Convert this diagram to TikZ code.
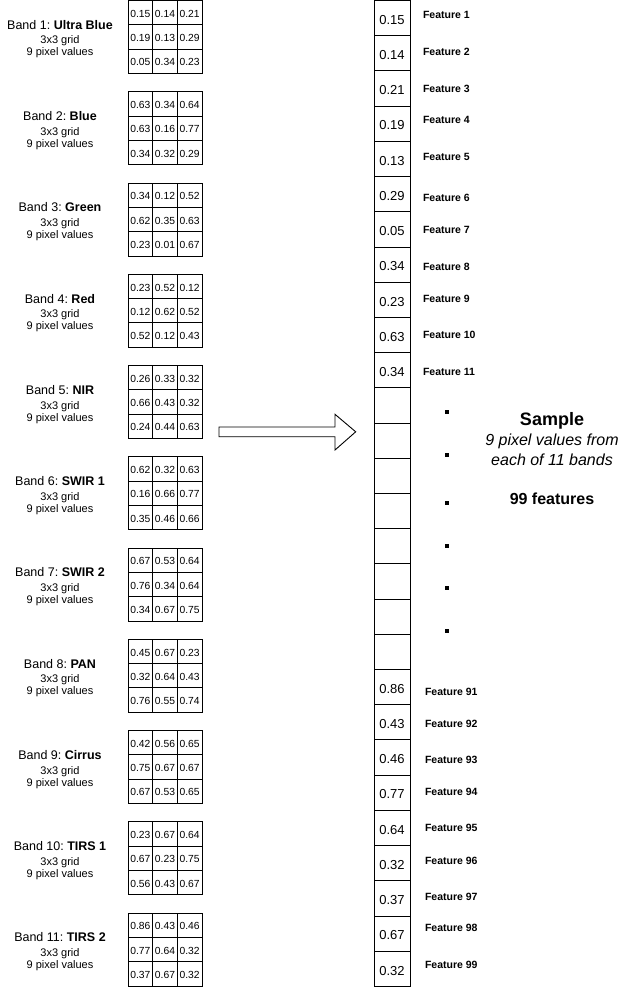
\documentclass[tikz,border=0pt]{standalone}
\usepackage{fontspec}
\setmainfont{Liberation Sans}

% One 3x3 band grid with its caption: #1 band number, #2 band name, #3 nine values
\newcommand\bandgrid[3]{%
  \pgfmathsetmacro\gtop{0.5+(#1-1)*91.25}%
  \pgfmathsetmacro\gmid{\gtop+36.5}%
  \foreach \v [count=\k from 0] in {#3} {
    \pgfmathtruncatemacro\rr{div(\k,3)}
    \pgfmathtruncatemacro\cc{mod(\k,3)}
    \node[gridcell] (g#1-\rr\cc) at ({128+24.67*(\cc+0.5)}, {\gtop+24.33*(\rr+0.5)}) {\v};
  }
  \node[bandtitle] (title#1) at (60, {\gmid-7.7}) {Band #1:~\textbf{#2}};
  \node[bandnote] (gridnote#1) at (60, {\gmid+7}) {3x3 grid};
  \node[bandnote] (pixnote#1) at (60, {\gmid+19}) {9 pixel values};
}

\begin{document}
\begin{tikzpicture}[x=1pt, y=-1pt,
  every node/.style={inner sep=0pt, outer sep=0pt},
  gridcell/.style={draw=black, line width=0.9pt, minimum width=24.67pt,
    minimum height=24.33pt, font=\fontsize{10.3}{12}\selectfont,
    text height=9.2pt, text depth=0pt},
  featcell/.style={draw=black, line width=0.9pt, minimum width=36pt,
    minimum height=35.21pt, font=\fontsize{13}{15}\selectfont,
    text height=12.5pt, text depth=0pt},
  bandtitle/.style={anchor=base, font=\fontsize{12.5}{15}\selectfont},
  bandnote/.style={anchor=base, font=\fontsize{11}{13}\selectfont},
  featlabel/.style={anchor=base west, font=\fontsize{10.5}{12}\selectfont\bfseries},
  ellipsisdot/.style={fill=black, minimum size=4pt},
  blockarrow/.style={draw=black, line width=0.9pt, fill=white, line join=miter}
]
\useasboundingbox (0,0) rectangle (640,987);

% the eleven band grids
\bandgrid{1}{Ultra Blue}{0.15,0.14,0.21,0.19,0.13,0.29,0.05,0.34,0.23}
\bandgrid{2}{Blue}{0.63,0.34,0.64,0.63,0.16,0.77,0.34,0.32,0.29}
\bandgrid{3}{Green}{0.34,0.12,0.52,0.62,0.35,0.63,0.23,0.01,0.67}
\bandgrid{4}{Red}{0.23,0.52,0.12,0.12,0.62,0.52,0.52,0.12,0.43}
\bandgrid{5}{NIR}{0.26,0.33,0.32,0.66,0.43,0.32,0.24,0.44,0.63}
\bandgrid{6}{SWIR 1}{0.62,0.32,0.63,0.16,0.66,0.77,0.35,0.46,0.66}
\bandgrid{7}{SWIR 2}{0.67,0.53,0.64,0.76,0.34,0.64,0.34,0.67,0.75}
\bandgrid{8}{PAN}{0.45,0.67,0.23,0.32,0.64,0.43,0.76,0.55,0.74}
\bandgrid{9}{Cirrus}{0.42,0.56,0.65,0.75,0.67,0.67,0.67,0.53,0.65}
\bandgrid{10}{TIRS 1}{0.23,0.67,0.64,0.67,0.23,0.75,0.56,0.43,0.67}
\bandgrid{11}{TIRS 2}{0.86,0.43,0.46,0.77,0.64,0.32,0.37,0.67,0.32}

% the feature vector column
\foreach \v [count=\k from 0] in {0.15,0.14,0.21,0.19,0.13,0.29,0.05,0.34,0.23,0.63,0.34,
    {},{},{},{},{},{},{},{},
    0.86,0.43,0.46,0.77,0.64,0.32,0.37,0.67,0.32} {
  \node[featcell] (cell\k) at (392, {0.5+35.21*(\k+0.5)}) {\v};
}

% feature labels
\foreach \n/\yy in {1/19, 2/55.7, 3/92.3, 4/124, 5/160.7, 6/201, 7/233, 8/270,
    9/302, 10/338, 11/375} {
  \node[featlabel] (feat\n) at (423, \yy) {Feature \n};
}
\foreach \n/\yy in {91/695.3, 92/727.3, 93/763.3, 94/795, 95/831.7, 96/864,
    97/900.7, 98/931.7, 99/968.3} {
  \node[featlabel] (feat\n) at (425, \yy) {Feature \n};
}

% elided features
\foreach \yy [count=\k] in {412, 455, 503, 546, 588, 631} {
  \node[ellipsisdot] (dot\k) at (447, \yy) {};
}

% block arrow from the grids to the feature vector
\draw[blockarrow] (219,427) -- (335,427) -- (335,414.3) -- (355.7,431.8)
  -- (335,450) -- (335,436.7) -- (219,436.7) -- cycle;

% summary text
\node[anchor=base, font=\fontsize{18}{21}\selectfont\bfseries] (sample) at (552, 425.7) {Sample};
\node[anchor=base, font=\fontsize{16}{19}\selectfont\itshape] (desc1) at (552, 445.3) {9 pixel values from};
\node[anchor=base, font=\fontsize{16}{19}\selectfont\itshape] (desc2) at (552, 465.3) {each of 11 bands};
\node[anchor=base, font=\fontsize{16}{19}\selectfont\bfseries] (count) at (552, 504.3) {99 features};
\end{tikzpicture}
\end{document}
